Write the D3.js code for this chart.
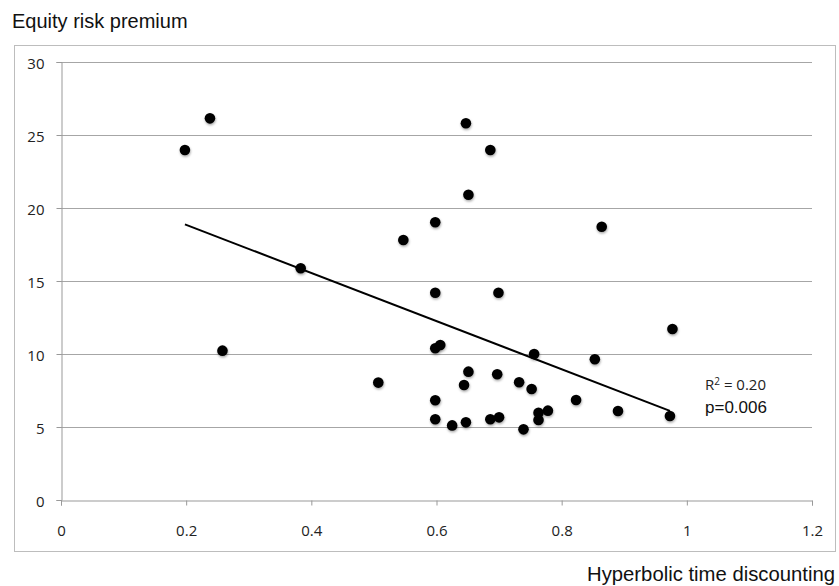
<!DOCTYPE html>
<html>
<head>
<meta charset="utf-8">
<script src="https://cdn.jsdelivr.net/npm/d3@7"></script>
<style>
  body { margin: 0; background: #fff; }
  text { font-family: "Liberation Sans", Arial, sans-serif; }
</style>
</head>
<body>
<div class="canvas"></div>
<script>
// values
const discounting = [0.198, 0.238, 0.258, 0.383, 0.507, 0.547, 0.598, 0.598, 0.598, 0.606,
  0.598, 0.598, 0.625, 0.647, 0.644, 0.651, 0.647, 0.651, 0.686, 0.699,
  0.697, 0.686, 0.700, 0.732, 0.739, 0.752, 0.756, 0.763, 0.763, 0.778,
  0.823, 0.853, 0.864, 0.890, 0.973, 0.977];
const premium = [23.97, 26.14, 10.23, 15.87, 8.04, 17.81, 19.02, 14.2, 10.39, 10.62,
  6.83, 5.53, 5.11, 5.32, 7.88, 8.79, 25.8, 20.91, 23.97, 14.2,
  8.61, 5.53, 5.66, 8.06, 4.84, 7.6, 10.0, 5.98, 5.48, 6.12,
  6.85, 9.64, 18.72, 6.1, 5.75, 11.71];
const fitX = [0.198, 0.973];
const fitY = [18.88, 6.1];
const xTicks = [0, 0.2, 0.4, 0.6, 0.8, 1, 1.2];
const yTicks = [0, 5, 10, 15, 20, 25, 30];

const width = 839, height = 586;
const margin = {top: 62, right: 27, bottom: 86, left: 61};

const svg = d3.select(".canvas")
    .append('svg')
    .attr('width', width)
    .attr('height', height);

const x = d3.scaleLinear()
    .domain([0, 1.2])
    .range([margin.left, width - margin.right]);
const y = d3.scaleLinear()
    .domain([0, 30])
    .range([height - margin.bottom, margin.top]);

// drop shadow under the dots
const defs = svg.append('defs');
const f = defs.append('filter').attr('id', 'shadow')
    .attr('x', '-50%').attr('y', '-50%').attr('width', '200%').attr('height', '200%');
f.append('feDropShadow').attr('dx', 0.5).attr('dy', 1.5).attr('stdDeviation', 1)
    .attr('flood-color', '#000').attr('flood-opacity', 0.35);

// outer box
svg.append('rect')
    .attr('x', 14.5).attr('y', 45.5)
    .attr('width', 821).attr('height', 506)
    .attr('fill', 'none')
    .attr('stroke', '#bdbdbd');

// gridlines
svg.append('g')
  .selectAll('line')
  .data(yTicks.filter(d => d > 0))
  .enter()
  .append('line')
    .attr('x1', x(0)).attr('x2', x(1.2))
    .attr('y1', d => Math.round(y(d)) + 0.5)
    .attr('y2', d => Math.round(y(d)) + 0.5)
    .attr('stroke', '#a6a6a6');

// axes
const xAxis = svg.append('g')
    .attr('transform', `translate(0,${Math.round(y(0)) + 0.5})`)
    .call(d3.axisBottom(x).tickValues(xTicks).tickSize(5).tickPadding(20)
      .tickFormat(d3.format('')));
const yAxis = svg.append('g')
    .attr('transform', `translate(${Math.round(x(0)) + 0.5},0)`)
    .call(d3.axisLeft(y).tickValues(yTicks).tickSize(5).tickPadding(12));

[xAxis, yAxis].forEach(g => {
  g.select('.domain').attr('stroke', '#999');
  g.selectAll('.tick line').attr('stroke', '#999');
  g.selectAll('.tick text')
    .attr('fill', '#222')
    .style('font-family', '"Open Sans", "Liberation Sans", sans-serif')
    .style('font-size', '15px');
});
yAxis.selectAll('.tick text').attr('dy', '0.45em');

// trend line
svg.append('line')
    .attr('x1', x(fitX[0])).attr('y1', y(fitY[0]))
    .attr('x2', x(fitX[1])).attr('y2', y(fitY[1]))
    .attr('stroke', '#000')
    .attr('stroke-width', 2);

// dots
svg.append('g')
  .selectAll('circle')
  .data(discounting.map((d, i) => ({x: d, y: premium[i]})))
  .enter()
  .append('circle')
    .attr('cx', d => x(d.x))
    .attr('cy', d => y(d.y))
    .attr('r', 5.3)
    .attr('fill', '#000')
    .attr('filter', 'url(#shadow)');

// titles and annotation
svg.append('text')
    .attr('x', 12).attr('y', 28)
    .attr('font-size', 20)
    .attr('fill', '#111')
    .text('Equity risk premium');

svg.append('text')
    .attr('x', 835).attr('y', 581)
    .attr('text-anchor', 'end')
    .attr('font-size', 20.3)
    .attr('fill', '#111')
    .text('Hyperbolic time discounting');

const r2 = svg.append('text')
    .attr('x', 705).attr('y', 390)
    .attr('font-size', 15)
    .attr('fill', '#222')
    .style('font-family', '"Open Sans", "Liberation Sans", sans-serif');
r2.append('tspan').text('R');
r2.append('tspan').attr('font-size', 10).attr('dy', -5).text('2');
r2.append('tspan').attr('dy', 5).text(' = 0.20');

svg.append('text')
    .attr('x', 705).attr('y', 413)
    .attr('font-size', 17)
    .attr('fill', '#111')
    .text('p=0.006');
</script>
</body>
</html>
